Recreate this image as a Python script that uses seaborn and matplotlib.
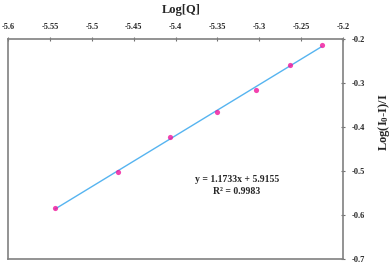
import numpy as np
import pandas as pd
import seaborn as sns
import matplotlib.pyplot as plt

# data
log_q = [-5.544, -5.469, -5.406, -5.351, -5.304, -5.263, -5.2255]
log_ratio = [-0.584, -0.5025, -0.422, -0.367, -0.316, -0.258, -0.213]
x_ticks = [-5.6, -5.55, -5.5, -5.45, -5.4, -5.35, -5.3, -5.25, -5.2]
y_ticks = [-0.7, -0.6, -0.5, -0.4, -0.3, -0.2]
eq_text = "y = 1.1733x + 5.9155"
r2_text = "R² = 0.9983"

df = pd.DataFrame({"logQ": log_q, "ratio": log_ratio})

sns.set_style("white")
plt.rcParams["font.family"] = ["Liberation Serif", "DejaVu Serif"]
plt.rcParams["font.weight"] = "bold"
plt.rcParams["mathtext.fontset"] = "custom"
plt.rcParams["mathtext.rm"] = "Liberation Serif:bold"
plt.rcParams["mathtext.default"] = "rm"

fig = plt.figure(figsize=(3.92, 2.64), dpi=100)
ax = fig.add_axes([8 / 392, 5 / 264, 335 / 392, 220 / 264])

sns.regplot(
    data=df, x="logQ", y="ratio", ax=ax, ci=None,
    scatter_kws=dict(color="#f0149b", s=14, linewidths=0, zorder=3),
    line_kws=dict(color="#56b4f0", lw=1.0, zorder=2),
)

ax.set_xlim(-5.6, -5.2)
ax.set_ylim(-0.7, -0.2)
ax.set_xticks(x_ticks)
ax.set_yticks(y_ticks)
ax.set_xticklabels([f"{v:g}" for v in x_ticks])
ax.set_yticklabels([f"{v:g}" for v in y_ticks])
ax.xaxis.tick_top()
ax.yaxis.tick_right()
ax.tick_params(axis="both", direction="inout", length=3, width=0.8,
               color="#707070", labelsize=6)
ax.tick_params(axis="x", pad=4)
ax.tick_params(axis="y", pad=5)
ax.set_xlabel("")
ax.set_ylabel("")
for sp in ax.spines.values():
    sp.set_color("#808080")
    sp.set_linewidth(1.2)

fig.text(181 / 392, 1 - 10 / 264, "Log[Q]", ha="center", va="center",
         fontsize=9, fontweight="bold")
fig.text(384 / 392, 1 - 122 / 264, "Log(I$_0$-I)/I", ha="center", va="center",
         rotation=90, fontsize=9, fontweight="bold")

# equation box, placed in figure fractions
fig.text(237 / 392, 1 - 180 / 264, eq_text, ha="center", va="center",
         fontsize=7, fontweight="bold")
fig.text(237 / 392, 1 - 192 / 264, r2_text, ha="center", va="center",
         fontsize=7, fontweight="bold")

fig.savefig("out.png", dpi=100)
